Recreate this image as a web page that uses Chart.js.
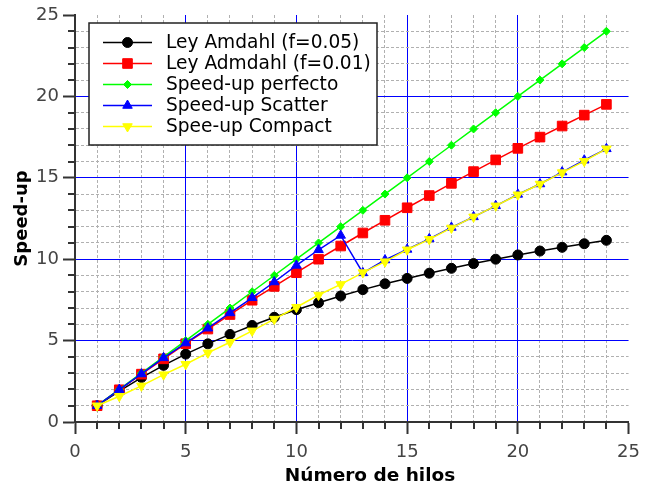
<!DOCTYPE html>
<html>
<head>
<meta charset="utf-8">
<title>Speed-up</title>
<script src="https://cdn.jsdelivr.net/npm/chart.js@4/dist/chart.umd.min.js"></script>
<style>
    html, body { margin: 0; padding: 0; background: #fff; }
    #wrap { width: 648px; height: 489px; }
</style>
</head>
<body>
<div id="wrap"><canvas id="speedupChart" width="648" height="489"></canvas></div>
<script>
// values
const threads = [1, 2, 3, 4, 5, 6, 7, 8, 9, 10, 11, 12, 13, 14, 15, 16, 17, 18, 19, 20, 21, 22, 23, 24];
const amdahl005 = [1.00, 1.90, 2.73, 3.48, 4.17, 4.80, 5.38, 5.93, 6.43, 6.90, 7.33, 7.74, 8.13, 8.49, 8.82, 9.14, 9.44, 9.73, 10.00, 10.26, 10.50, 10.73, 10.95, 11.16];
const amdahl001 = [1.00, 1.98, 2.94, 3.88, 4.81, 5.71, 6.60, 7.48, 8.33, 9.17, 10.00, 10.81, 11.61, 12.39, 13.16, 13.91, 14.66, 15.38, 16.10, 16.81, 17.50, 18.18, 18.85, 19.51];
const perfect = [1, 2, 3, 4, 5, 6, 7, 8, 9, 10, 11, 12, 13, 14, 15, 16, 17, 18, 19, 20, 21, 22, 23, 24];
const scatter = [1.00, 1.99, 2.95, 3.94, 4.85, 5.76, 6.70, 7.63, 8.60, 9.62, 10.58, 11.46, 9.16, 9.95, 10.60, 11.25, 11.95, 12.60, 13.28, 13.98, 14.62, 15.35, 16.08, 16.78];
const compact = [1.00, 1.58, 2.22, 2.91, 3.55, 4.25, 4.90, 5.60, 6.32, 7.05, 7.80, 8.45, 9.18, 9.85, 10.58, 11.22, 11.92, 12.60, 13.28, 13.96, 14.62, 15.32, 16.02, 16.78];
const seriesNames = ['Ley Amdahl (f=0.05)', 'Ley Admdahl (f=0.01)', 'Speed-up perfecto', 'Speed-up Scatter', 'Spee-up Compact'];
const xTitle = 'Número de hilos';
const yTitle = 'Speed-up';
const axisMin = 0;
const axisMax = 25;
const majorStep = 5;

const FONT = '"DejaVu Sans", Verdana, sans-serif';

function points(ys) {
    return threads.map((x, i) => ({ x: x, y: ys[i] }));
}

function makeSet(label, ys, color, style, radius, rotation, order) {
    return {
        label: label,
        data: points(ys),
        borderColor: color,
        backgroundColor: color,
        borderWidth: 1.5,
        pointStyle: style,
        pointRadius: radius,
        pointRotation: rotation,
        pointBorderWidth: 1,
        pointBorderColor: color,
        pointBackgroundColor: color,
        tension: 0,
        order: order,
    };
}

const isMajor = (v) => v % majorStep === 0;

function gridColor(ctx) {
    const v = ctx.tick.value;
    if (v === axisMin || v === axisMax) return 'rgba(0,0,0,0)';
    return isMajor(v) ? '#0000ff' : '#b0b0b0';
}

// in v4 the dash of the grid lines is read from border.dash, per tick
function gridDash(ctx) {
    if (!ctx.tick) return [];
    return isMajor(ctx.tick.value) ? [] : [3, 2];
}

function tickColor(ctx) {
    return isMajor(ctx.tick.value) ? '#333' : 'rgba(0,0,0,0)';
}

function axisOptions(title, labelPadding, fitFn) {
    return {
        type: 'linear',
        min: axisMin,
        max: axisMax,
        afterFit: fitFn,
        title: title,
        ticks: {
            stepSize: 1,
            autoSkip: false,
            maxRotation: 0,
            padding: labelPadding,
            color: '#444',
            font: { family: FONT, size: 18 },
            callback: (v) => (isMajor(v) ? String(v) : ''),
        },
        grid: {
            color: gridColor,
            lineWidth: 1,
            tickLength: 12,
            tickWidth: 2,
            tickColor: tickColor,
        },
        border: { display: true, color: '#333', width: 2, dash: gridDash },
    };
}

// short ticks for the minor steps (Chart.js only has one tick length)
const minorTicks = {
    id: 'minorTicks',
    afterDraw(chart) {
        const { ctx, chartArea, scales } = chart;
        ctx.save();
        ctx.strokeStyle = '#333';
        ctx.lineWidth = 2;
        scales.x.ticks.forEach((t) => {
            if (isMajor(t.value)) return;
            const px = Math.round(scales.x.getPixelForValue(t.value));
            ctx.beginPath();
            ctx.moveTo(px, chartArea.bottom);
            ctx.lineTo(px, chartArea.bottom + 7);
            ctx.stroke();
        });
        scales.y.ticks.forEach((t) => {
            if (isMajor(t.value)) return;
            const py = Math.round(scales.y.getPixelForValue(t.value));
            ctx.beginPath();
            ctx.moveTo(chartArea.left - 7, py);
            ctx.lineTo(chartArea.left, py);
            ctx.stroke();
        });

        // x title sits a little right of the plot centre in the original
        ctx.fillStyle = '#000';
        ctx.font = 'bold 18.5px ' + FONT;
        ctx.textAlign = 'center';
        ctx.textBaseline = 'middle';
        ctx.fillText(xTitle, 370, 476);
        ctx.restore();
    },
};

function drawMarker(ctx, ds, x, y) {
    const opts = {
        pointStyle: ds.pointStyle,
        radius: ds.pointRadius,
        rotation: ds.pointRotation,
        borderWidth: ds.pointBorderWidth,
    };
    ctx.fillStyle = ds.pointBackgroundColor;
    ctx.strokeStyle = ds.pointBorderColor;
    ctx.lineWidth = ds.pointBorderWidth;
    Chart.helpers.drawPoint(ctx, opts, x, y);
}

// boxed legend sitting inside the plot, top left
const boxLegend = {
    id: 'boxLegend',
    afterDraw(chart) {
        const ctx = chart.ctx;
        const box = { left: 89, top: 23, width: 288, height: 122 };
        ctx.save();
        ctx.fillStyle = '#fff';
        ctx.fillRect(box.left, box.top, box.width, box.height);
        ctx.strokeStyle = '#222';
        ctx.lineWidth = 1.5;
        ctx.strokeRect(box.left, box.top, box.width, box.height);

        chart.data.datasets.forEach((ds, i) => {
            const y = 42.5 + i * 21;
            ctx.strokeStyle = ds.borderColor;
            ctx.lineWidth = ds.borderWidth;
            ctx.beginPath();
            ctx.moveTo(103, y);
            ctx.lineTo(152, y);
            ctx.stroke();
            drawMarker(ctx, ds, 127.5, y);

            ctx.fillStyle = '#000';
            ctx.font = '18.6px ' + FONT;
            ctx.textBaseline = 'middle';
            ctx.textAlign = 'left';
            ctx.fillText(ds.label, 166, y + 1);
        });
        ctx.restore();
    },
};

const canvas = document.getElementById('speedupChart');

new Chart(canvas, {
    type: 'line',
    data: {
        datasets: [
            makeSet(seriesNames[0], amdahl005, '#000000', 'circle', 5, 0, 5),
            makeSet(seriesNames[1], amdahl001, '#ff0000', 'rect', 6.8, 0, 4),
            makeSet(seriesNames[2], perfect, '#00ff00', 'rectRot', 4, 0, 3),
            makeSet(seriesNames[3], scatter, '#0000ff', 'triangle', 5.5, 0, 2),
            makeSet(seriesNames[4], compact, '#ffff00', 'triangle', 5.5, 180, 1),
        ],
    },
    options: {
        responsive: false,
        animation: false,
        devicePixelRatio: 1,
        layout: { padding: { top: 15, right: 15, left: 0, bottom: 0 } },
        plugins: {
            legend: { display: false },
            tooltip: { enabled: false },
        },
        scales: {
            x: axisOptions({ display: false }, 8, (s) => { s.height = 67; }),
            y: axisOptions({
                display: true,
                text: yTitle,
                color: '#000',
                font: { family: FONT, size: 18, weight: 'bold' },
                padding: { top: 12, bottom: 0 },
            }, 4, (s) => { s.width = 75; }),
        },
    },
    plugins: [minorTicks, boxLegend],
});
</script>
</body>
</html>
